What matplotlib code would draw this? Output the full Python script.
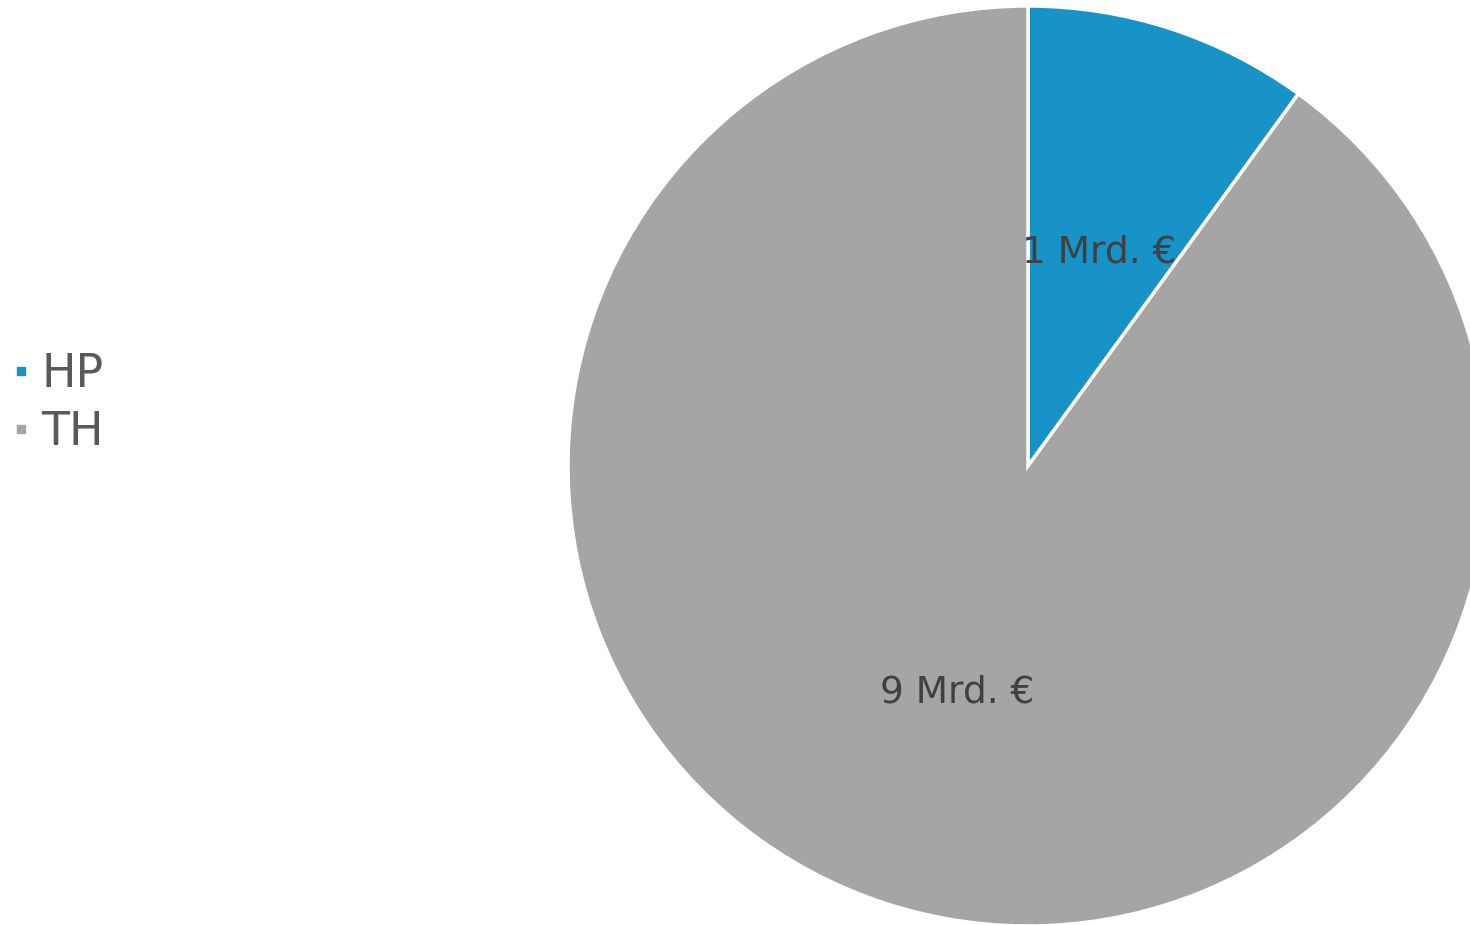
import matplotlib.pyplot as plt
from matplotlib.lines import Line2D

# data
names = ["HP", "TH"]
values = [1, 9]
colors = ["#1793C8", "#A5A5A5"]
unit = "Mrd. €"

fig = plt.figure(figsize=(14.7, 9.25), dpi=100)
# pie centre ~ (1028, 466) px, radius ~460 px
ax = fig.add_axes([568 / 1470, -1 / 925, 920 / 1470, 920 / 925])

total = sum(values)
wedges, texts, autotexts = ax.pie(
    values,
    colors=colors,
    startangle=90,
    counterclock=False,
    autopct=lambda p: f"{round(p * total / 100)} {unit}",
    pctdistance=0.502,
    wedgeprops=dict(edgecolor="white", linewidth=2.5),
    textprops=dict(fontsize=27, color="#404040"),
)
# nudge labels down a little (visual centre)
for t in autotexts:
    x, y = t.get_position()
    t.set_position((x, y - 0.014))
ax.set_xlim(-1, 1)
ax.set_ylim(-1, 1)
ax.axis("off")

handles = [Line2D([], [], marker="s", linestyle="none", markersize=6,
                  markerfacecolor=c, markeredgecolor=c) for c in colors]
fig.legend(handles, names, loc="center left", bbox_to_anchor=(0.008, 0.564),
           frameon=False, fontsize=33, labelcolor="#595959",
           handlelength=0.4, handletextpad=0.25, labelspacing=0.29,
           borderpad=0, borderaxespad=0)

fig.savefig("out.png", dpi=100)
